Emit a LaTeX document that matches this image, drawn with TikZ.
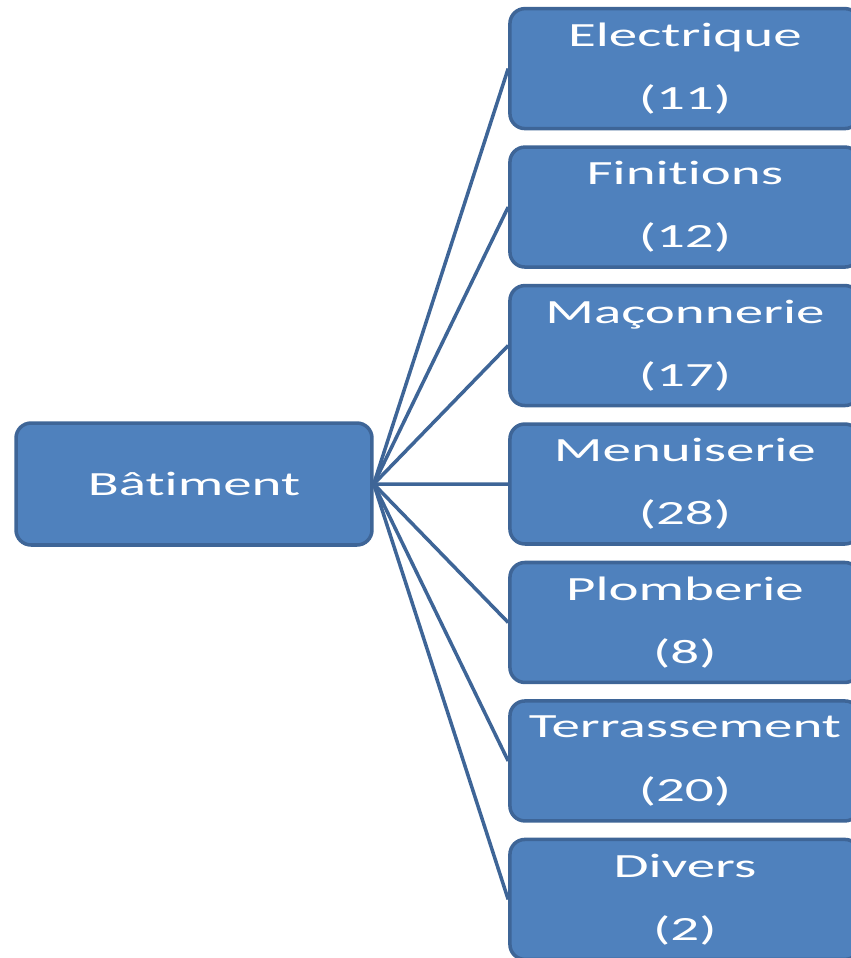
\documentclass[tikz,border=0pt]{standalone}
\usepackage{fontspec}
\usepackage{tikz}
\usetikzlibrary{positioning}

\newfontfamily\boxfont[FakeStretch=1.68, Ligatures=NoCommon]{Carlito}
\definecolor{boxblue}{HTML}{4F81BD}
\definecolor{lineblue}{HTML}{3E6597}

\tikzset{
    box/.style={draw=lineblue, fill=boxblue, line width=2pt, rounded corners=0.3cm,
        text=white, align=center, font=\boxfont\fontsize{19.3}{35.9}\selectfont},
    rootbox/.style={box, minimum width=7.12cm, minimum height=2.44cm},
    leafbox/.style={box, minimum width=7cm, minimum height=2.4cm},
}

\begin{document}
\begin{tikzpicture}[x=0.02cm, y=-0.02cm]
    \useasboundingbox (0,0) rectangle (851,958);
    \node[rootbox] (batiment) at (194,484) {B\^atiment}
        [grow'=right, level distance=9.82cm, sibling distance=2.77cm,
         edge from parent/.style={draw=lineblue, line width=2pt},
         edge from parent path={(\tikzparentnode.east) -- (\tikzchildnode.west)}]
        child { node[leafbox] (electrique) {Electrique\\(11)} }
        child { node[leafbox] (finitions) {Finitions\\(12)} }
        child { node[leafbox] (maconnerie) {Ma\c{c}onnerie\\(17)} }
        child { node[leafbox] (menuiserie) {Menuiserie\\(28)} }
        child { node[leafbox] (plomberie) {Plomberie\\(8)} }
        child { node[leafbox] (terrassement) {Terrassement\\(20)} }
        child { node[leafbox] (divers) {Divers\\(2)} };
\end{tikzpicture}
\end{document}
